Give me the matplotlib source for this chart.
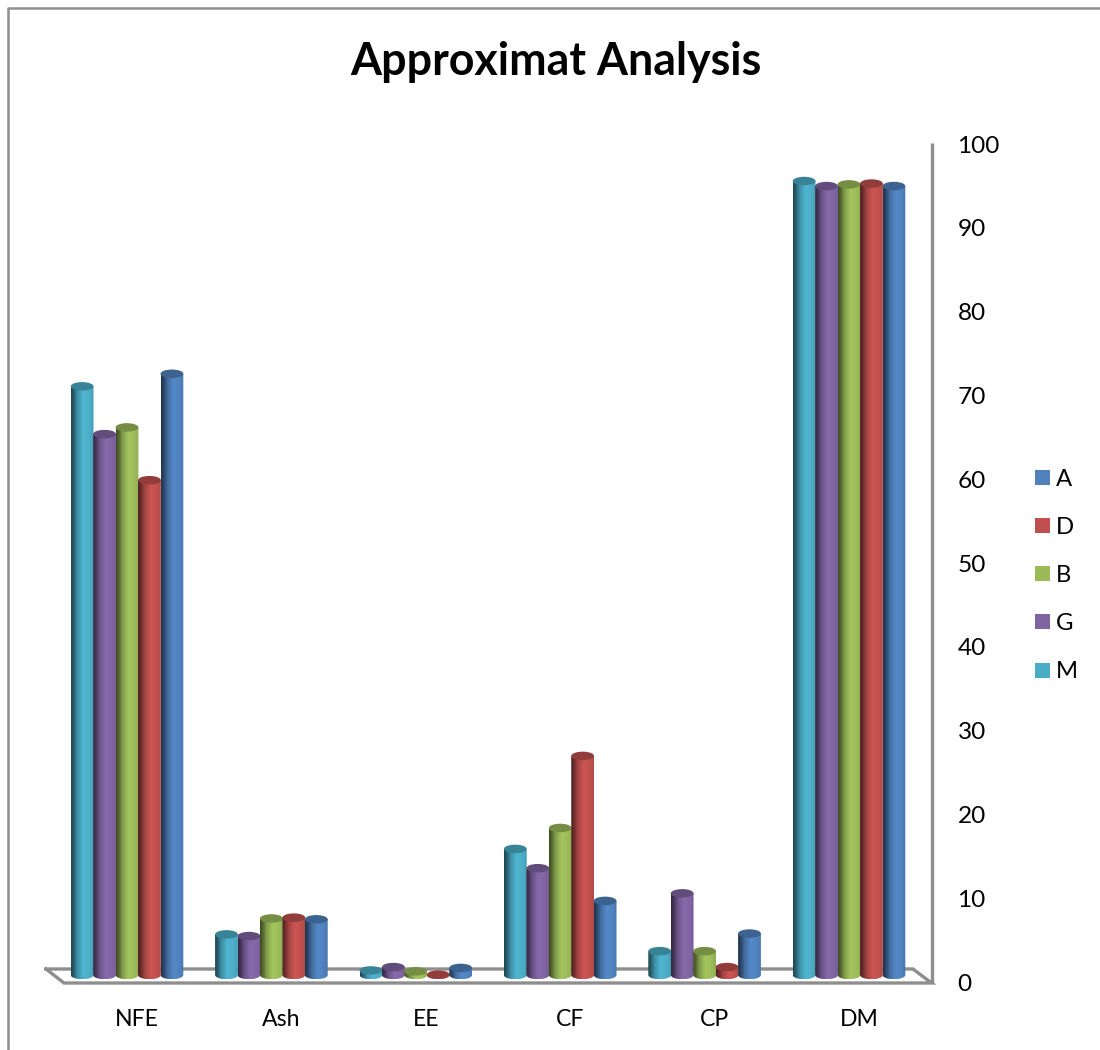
import matplotlib
matplotlib.use("Agg")
import matplotlib.pyplot as plt
import numpy as np
from matplotlib.patches import Ellipse, PathPatch, Rectangle
from matplotlib.path import Path

plt.rcParams['font.family'] = ['Lato', 'DejaVu Sans']

title = "Approximat Analysis"
categories = ["NFE", "Ash", "EE", "CF", "CP", "DM"]
series_names = ["M", "G", "B", "D", "A"]
M = [71.2, 5.8, 1.5, 16.0, 3.8, 95.7]
G = [65.5, 5.6, 1.9, 13.7, 10.7, 95.1]
B = [66.3, 7.7, 1.4, 18.5, 3.8, 95.3]
D = [60.0, 7.8, 1.0, 27.1, 1.9, 95.4]
A = [72.7, 7.6, 1.8, 9.8, 5.9, 95.1]
series_values = [M, G, B, D, A]
colors = ["#4BACC6", "#8064A2", "#9BBB59", "#C0504D", "#4F81BD"]
yticks = list(range(0, 101, 10))
legend_order = ["A", "D", "B", "G", "M"]

W, H = 1100, 1050
fig = plt.figure(figsize=(W / 100, H / 100), dpi=100)
fig.patch.set_facecolor("white")

# axes box in pixels: y 0 at 983, 100 at 145; x category 0 at 127, 144.4 px per step
left_px, right_px, top_px, bot_px = 55.0, 931.5, 145.0, 983.0
ax = fig.add_axes([left_px / W, 1 - bot_px / H, (right_px - left_px) / W, (bot_px - top_px) / H])
px_per_cat = 144.4
x0 = (left_px - 127) / px_per_cat
x1 = (right_px - 127) / px_per_cat
ax.set_xlim(x0, x1)
ax.set_ylim(0, 100)
ax.patch.set_alpha(0)
for s in ax.spines.values():
    s.set_visible(False)
ax.tick_params(left=False, bottom=False, right=False, top=False, labelleft=False, labelbottom=False)

GRAY = "#8E8E8E"
px_x = 1 / px_per_cat
px_y = 100 / (bot_px - top_px)


def dx(p):
    return (p - 127) * px_x


def dy(p):
    return (bot_px - p) * px_y


# floor and value axis
floor = [(46, 969), (913, 969), (931.5, 983), (64, 983), (46, 969)]
ax.plot([dx(p[0]) for p in floor], [dy(p[1]) for p in floor], color=GRAY, lw=2.4,
        clip_on=False, zorder=1, solid_joinstyle="miter")
ax.plot([dx(931.5)] * 2, [0, 100.2], color=GRAY, lw=2.4, clip_on=False, zorder=1,
        solid_capstyle="butt")

bar_w = 22.8 * px_x
step = 22.45 * px_x
base = dy(975)
ew = bar_w
eh = 8.5 * px_y


def shade(c):
    rgb = np.array(matplotlib.colors.to_rgb(c))
    t = np.linspace(0, 1, 64)
    knots_t = [0, 0.1, 0.3, 0.55, 0.85, 1]
    knots_f = [0.40, 0.52, 0.85, 1.06, 1.0, 0.92]
    f = np.interp(t, knots_t, knots_f)
    return np.clip(rgb[None, None, :] * f[None, :, None], 0, 1)


def cylinder(xc, val, color, z):
    xl, xr = xc - bar_w / 2, xc + bar_w / 2
    kappa = 0.5523
    rx, ry = bar_w / 2, eh / 2
    verts = [(xl, val), (xl, base),
             (xl, base - ry * kappa), (xc - rx * kappa, base - ry), (xc, base - ry),
             (xc + rx * kappa, base - ry), (xr, base - ry * kappa), (xr, base),
             (xr, val), (xl, val)]
    codes = [Path.MOVETO, Path.LINETO,
             Path.CURVE4, Path.CURVE4, Path.CURVE4,
             Path.CURVE4, Path.CURVE4, Path.CURVE4,
             Path.LINETO, Path.CLOSEPOLY]
    body = PathPatch(Path(verts, codes), facecolor="none", edgecolor="none", zorder=z)
    ax.add_patch(body)
    im = ax.imshow(shade(color), extent=(xl, xr, base - ry, val), aspect="auto",
                   interpolation="bilinear", zorder=z)
    im.set_clip_path(body)
    rgb = np.array(matplotlib.colors.to_rgb(color)) * 0.76
    ax.add_patch(Ellipse((xc, val), ew, eh, facecolor=rgb, edgecolor="none", zorder=z + 0.1))


for i, cat in enumerate(categories):
    for j, vals in enumerate(series_values):
        xc = i + (j - 2) * step
        cylinder(xc, vals[i], colors[j], 2 + j * 0.2 + i)

ax.set_xlim(x0, x1)
ax.set_ylim(0, 100)

# tick labels
for v in yticks:
    ax.text(dx(957.5), v - 0.12, str(v), ha="left", va="center", fontsize=17.6, color="black", clip_on=False)
for i, cat in enumerate(categories):
    ax.text(i + 10 * px_x, dy(1020), cat, ha="center", va="center", fontsize=16.6, color="black", clip_on=False)

# legend
color_of = dict(zip(series_names, colors))
leg_y = [477.5, 525.5, 573.5, 621.5, 670]
for name, yp in zip(legend_order, leg_y):
    fig.add_artist(Rectangle((1035 / W, 1 - (yp + 7.5) / H), 15 / W, 15 / H, transform=fig.transFigure,
                             facecolor=color_of[name], edgecolor="none"))
    fig.text(1056 / W, 1 - (yp + 1.5) / H, name, ha="left", va="center", fontsize=17.2, color="black")

fig.text(556 / W, 1 - 62 / H, title, ha="center", va="center", fontsize=32.2, fontweight="bold", color="black")

# chart frame
fig.add_artist(plt.Line2D([7.5 / W, 7.5 / W, 1], [0, 1 - 8 / H, 1 - 8 / H], transform=fig.transFigure,
                          color=GRAY, lw=1.8))

fig.savefig("out.png", dpi=100, facecolor="white")
